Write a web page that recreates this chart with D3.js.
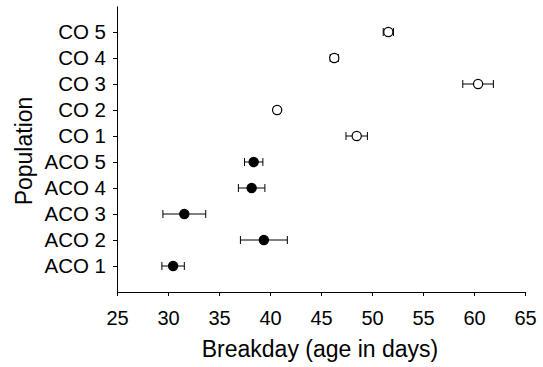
<!DOCTYPE html>
<html>
<head>
<meta charset="utf-8">
<script src="https://cdn.jsdelivr.net/npm/d3@7"></script>
<style>
  body { margin: 0; background: #fff; }
  text { font-family: "Liberation Sans", Arial, sans-serif; }
</style>
</head>
<body>
<script>
const populations = ["ACO 1", "ACO 2", "ACO 3", "ACO 4", "ACO 5", "CO 1", "CO 2", "CO 3", "CO 4", "CO 5"];
const means = [30.5, 39.4, 31.6, 38.2, 38.4, 48.5, 40.7, 60.4, 46.3, 51.6];
const errors = [1.1, 2.3, 2.1, 1.3, 0.9, 1.05, 0.3, 1.5, 0.4, 0.5];
const filled = [true, true, true, true, true, false, false, false, false, false];
const xTicks = [25, 30, 35, 40, 45, 50, 55, 60, 65];

const width = 543, height = 367;
const margin = {left: 117, right: 18, top: 6, bottom: 75};

const svg = d3.select("body").append("svg")
    .attr("width", width)
    .attr("height", height);

const x = d3.scaleLinear()
    .domain([25, 65])
    .range([margin.left, width - margin.right]);

const y = d3.scaleLinear()
    .domain([0, 11])
    .range([height - margin.bottom, margin.top]);

const data = populations.map((p, i) => ({name: p, pos: i + 1, mean: means[i], err: errors[i], filled: filled[i]}));

// x axis
svg.append("g")
    .attr("transform", `translate(0,${height - margin.bottom})`)
    .call(d3.axisBottom(x).tickValues(xTicks).tickSize(4).tickPadding(15).tickSizeOuter(0))
    .call(g => g.selectAll("text").attr("font-size", 20).attr("fill", "#000"))
    .call(g => g.selectAll("line, path").attr("stroke", "#000"));

// y axis
svg.append("g")
    .attr("transform", `translate(${margin.left},0)`)
    .call(d3.axisLeft(y).tickValues(data.map(d => d.pos)).tickFormat((v, i) => populations[i]).tickSize(4).tickPadding(7).tickSizeOuter(0))
    .call(g => g.selectAll("text").attr("font-size", 20.5).attr("fill", "#000"))
    .call(g => g.selectAll("line, path").attr("stroke", "#000"));

// error bars
const bars = svg.append("g").attr("stroke", "#000").attr("stroke-width", 1);
bars.selectAll("line.h")
    .data(data)
    .join("line")
    .attr("class", "h")
    .attr("x1", d => x(d.mean - d.err))
    .attr("x2", d => x(d.mean + d.err))
    .attr("y1", d => y(d.pos))
    .attr("y2", d => y(d.pos));
bars.selectAll("line.cl")
    .data(data)
    .join("line")
    .attr("class", "cl")
    .attr("x1", d => x(d.mean - d.err))
    .attr("x2", d => x(d.mean - d.err))
    .attr("y1", d => y(d.pos) - 4)
    .attr("y2", d => y(d.pos) + 4);
bars.selectAll("line.cr")
    .data(data)
    .join("line")
    .attr("class", "cr")
    .attr("x1", d => x(d.mean + d.err))
    .attr("x2", d => x(d.mean + d.err))
    .attr("y1", d => y(d.pos) - 4)
    .attr("y2", d => y(d.pos) + 4);

// points
svg.append("g")
    .selectAll("circle")
    .data(data)
    .join("circle")
    .attr("cx", d => x(d.mean))
    .attr("cy", d => y(d.pos))
    .attr("r", 4.6)
    .attr("fill", d => d.filled ? "#000" : "#fff")
    .attr("stroke", "#000")
    .attr("stroke-width", 1.2);

// axis titles
svg.append("text")
    .attr("x", 320)
    .attr("y", 357)
    .attr("text-anchor", "middle")
    .attr("font-size", 23)
    .text("Breakday (age in days)");

svg.append("text")
    .attr("transform", `translate(32,151) rotate(-90)`)
    .attr("text-anchor", "middle")
    .attr("font-size", 23)
    .text("Population");
</script>
</body>
</html>
